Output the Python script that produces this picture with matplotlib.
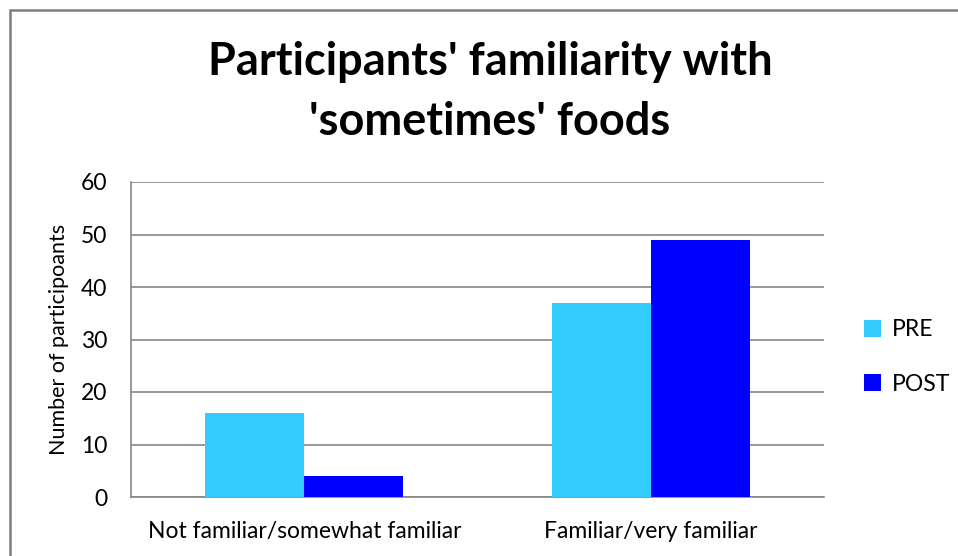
import numpy as np
import matplotlib.pyplot as plt
from matplotlib.patches import Rectangle

categories = ["Not familiar/somewhat familiar", "Familiar/very familiar"]
pre_values = [16, 37]
post_values = [4, 49]
y_ticks = [0, 10, 20, 30, 40, 50, 60]

plt.rcParams['font.family'] = ['Lato', 'DejaVu Sans']

fig = plt.figure(figsize=(9.58, 5.56), dpi=100)
ax = fig.add_axes([131/958, 1 - 497/556, 693/958, 315/556])

x = np.arange(len(categories))
w = 1 / 3.5
ax.bar(x - w/2, pre_values, w, color='#33CCFF', label='PRE', zorder=3)
ax.bar(x + w/2, post_values, w, color='#0000FF', label='POST', zorder=3)

ax.set_xlim(-0.5, 1.5)
ax.set_ylim(0, 60)
ax.set_yticks(y_ticks)
ax.set_xticks(x)
ax.set_xticklabels(categories, fontsize=16.5)
ax.tick_params(axis='both', length=0, labelsize=16.5)
ax.tick_params(axis='x', labelsize=16.5, pad=17)
ax.tick_params(axis='y', pad=17)
ax.grid(axis='y', color='#868686', linewidth=1.2, zorder=0)
for s in ['top', 'right']:
    ax.spines[s].set_visible(False)
for s in ['left', 'bottom']:
    ax.spines[s].set_color('#868686')
    ax.spines[s].set_linewidth(1.2)

ax.set_ylabel("Number of participoants", fontsize=15.5)
ax.yaxis.set_label_coords(-0.09, 0.5)

fig.text(490/958, 1 - 62/556, "Participants' familiarity with", fontsize=32.5,
         fontweight='bold', ha='center', va='center')
fig.text(490/958, 1 - 122/556, "'sometimes' foods", fontsize=32.5,
         fontweight='bold', ha='center', va='center')

fig.legend(loc='center left', bbox_to_anchor=(843/958, 1 - 357/556), frameon=False,
           fontsize=16.5, handlelength=0.75, handleheight=0.75, handletextpad=0.5,
           labelspacing=1.45)

# chart border
fig.add_artist(Rectangle((10/958, -0.1), 1.2, 1.1 - 10/556, transform=fig.transFigure,
                         fill=False, edgecolor='#7f7f7f', linewidth=1.8))

fig.savefig('out.png', dpi=100, facecolor='white')
